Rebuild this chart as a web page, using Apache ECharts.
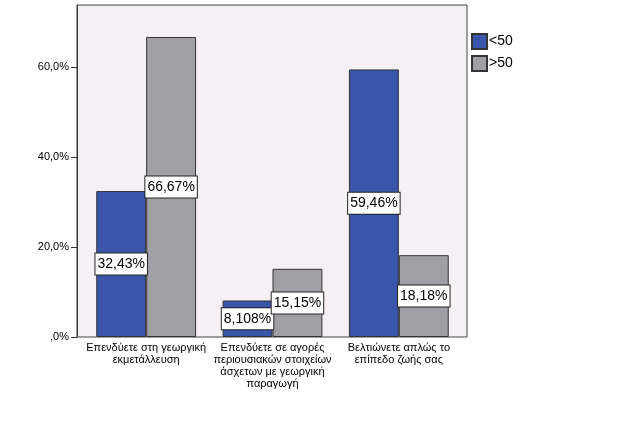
<!DOCTYPE html>
<html><head><meta charset="utf-8">
<script src="https://cdn.jsdelivr.net/npm/echarts@6/dist/echarts.min.js"></script>
<style>html,body{margin:0;padding:0;background:#fff}#c{width:626px;height:426px}</style>
</head><body><div id="c"></div>
<script>
const categories = [
  "Επενδύετε στη γεωργική\nεκμετάλλευση",
  "Επενδύετε σε αγορές\nπεριουσιακών στοιχείων\nάσχετων με γεωργική\nπαραγωγή",
  "Βελτιώνετε απλώς το\nεπίπεδο ζωής σας"
];
const seriesNames = ["<50", ">50"];
const under50 = [32.43, 8.108, 59.46];
const over50 = [66.67, 15.15, 18.18];
const under50Labels = ["32,43%", "8,108%", "59,46%"];
const over50Labels = ["66,67%", "15,15%", "18,18%"];
const yTicks = [0, 20, 40, 60];
const yMax = 73.78;

const font = "'Liberation Sans', Arial, sans-serif";
const chart = echarts.init(document.getElementById('c'), null, {renderer: 'canvas'});
function lbl(texts) {
  return {
    show: true, position: 'inside',
    formatter: p => texts[p.dataIndex],
    backgroundColor: '#fff', borderColor: '#222', borderWidth: 1,
    padding: [4, 2, 3, 2], color: '#000', fontFamily: font, fontSize: 14
  };
}
chart.setOption({
  animation: false,
  textStyle: {fontFamily: font},
  grid: [
    {left: 77, top: 5, width: 390, height: 332, show: true,
     backgroundColor: '#F4F0F4', borderColor: '#444', borderWidth: 1},
    {left: 83, top: 5, width: 379, height: 332}
  ],
  legend: {
    left: 471, top: 33, padding: 0, orient: 'vertical', itemWidth: 15, itemHeight: 15, itemGap: 5,
    icon: 'rect', textStyle: {fontSize: 14, color: '#000', fontFamily: font, padding: [0,0,0,-3]},
    data: seriesNames
  },
  xAxis: [
    {gridIndex: 0, type: 'value', min: 0, max: 1, show: false},
    {gridIndex: 1, type: 'category', data: categories,
     axisLine: {show: false},
     axisTick: {alignWithLabel: true, length: 5, lineStyle: {color: '#333'}},
     axisLabel: {color: '#000', fontSize: 11, lineHeight: 12, margin: 5, interval: 0, fontFamily: font}}
  ],
  yAxis: [
    {gridIndex: 0, type: 'value', min: 0, max: yMax,
     splitLine: {show: false},
     axisLine: {show: true, lineStyle: {color: '#333'}},
     axisTick: {show: true, length: 6, lineStyle: {color: '#333'}, customValues: yTicks},
     axisLabel: {color: '#000', fontSize: 11, margin: 8, fontFamily: font, customValues: yTicks,
       formatter: v => v === 0 ? ',0%' : v.toFixed(1).replace('.', ',') + '%'}},
    {gridIndex: 1, type: 'value', min: 0, max: yMax, show: false, splitLine: {show: false}}
  ],
  series: [
    {name: seriesNames[0], type: 'bar', xAxisIndex: 1, yAxisIndex: 1, data: under50,
     barGap: '0%', barCategoryGap: '21%',
     itemStyle: {color: '#3A56AA', borderColor: '#333', borderWidth: 1}, label: lbl(under50Labels)},
    {name: seriesNames[1], type: 'bar', xAxisIndex: 1, yAxisIndex: 1, data: over50,
     itemStyle: {color: '#A09FA4', borderColor: '#333', borderWidth: 1}, label: lbl(over50Labels)}
  ]
});
</script></body></html>
